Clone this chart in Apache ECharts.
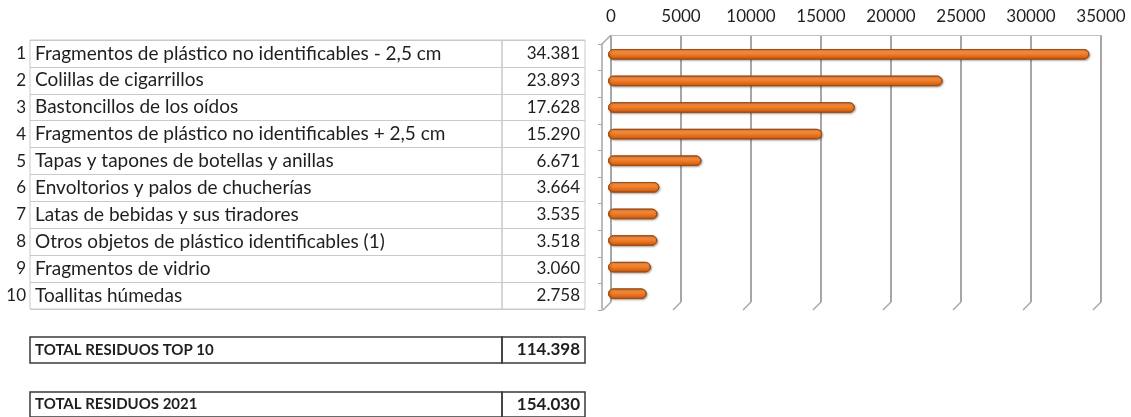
<!DOCTYPE html>
<html><head><meta charset="utf-8">
<script src="https://cdn.jsdelivr.net/npm/echarts@6/dist/echarts.min.js"></script>
<style>html,body{margin:0;padding:0;background:#fff}#c{width:1131px;height:417px}</style>
</head><body><div id="c"></div>
<script>
const categories = [
  'Fragmentos de plástico no identificables - 2,5 cm',
  'Colillas de cigarrillos',
  'Bastoncillos de los oídos',
  'Fragmentos de plástico no identificables + 2,5 cm',
  'Tapas y tapones de botellas y anillas',
  'Envoltorios y palos de chucherías',
  'Latas de bebidas y sus tiradores',
  'Otros objetos de plástico identificables (1)',
  'Fragmentos de vidrio',
  'Toallitas húmedas'
];
const values = [34381, 23893, 17628, 15290, 6671, 3664, 3535, 3518, 3060, 2758];
const rankLabels = ['1','2','3','4','5','6','7','8','9','10'];
const totalLabels = ['TOTAL RESIDUOS TOP 10', 'TOTAL RESIDUOS 2021'];
const totalValues = [114398, 154030];
const axisTicks = [0, 5000, 10000, 15000, 20000, 25000, 30000, 35000];
const axisMax = 35000;
const axisStep = 5000;

const fmt = n => String(n).replace(/\B(?=(\d{3})+(?!\d))/g, '.');
const FONT = 'Lato, "Liberation Sans", sans-serif';
const TXT = '#1F1F1F';
const CELL = '#C9C9C9';
const BOX = '#3A3A3A';
const GRIDC = '#A6A6A6';

const grids = [
  {left:611, top:35, width:490, height:267},                 // 0 back wall
  {left:608, top:41, width:490, height:266},                 // 1 bars
  {left:602, top:44, width:10, height:266},                  // 2 front axis
  {left:30, top:40, width:472, height:269, show:true, borderColor:CELL, borderWidth:1}, // 3 names
  {left:502, top:40, width:83, height:269, show:true, borderColor:CELL, borderWidth:1}, // 4 values
  {left:30, top:337, width:472, height:26, show:true, borderColor:BOX, borderWidth:1.5},
  {left:502, top:337, width:83, height:26, show:true, borderColor:BOX, borderWidth:1.5},
  {left:30, top:392, width:472, height:26, show:true, borderColor:BOX, borderWidth:1.5},
  {left:502, top:392, width:83, height:26, show:true, borderColor:BOX, borderWidth:1.5}
];

const hiddenX = i => ({gridIndex:i, type:'value', min:0, max:1, show:false});
const xAxes = [
  {gridIndex:0, type:'value', position:'top', min:0, max:axisMax, interval:axisStep,
   axisLine:{show:true, lineStyle:{color:'#BFBFBF', width:1}}, axisTick:{show:false},
   axisLabel:{margin:10, fontSize:17, color:TXT, fontFamily:FONT, formatter:v => String(v)},
   splitLine:{show:true, lineStyle:{color:GRIDC, width:2}}},
  {gridIndex:1, type:'value', min:0, max:axisMax, show:false},
  hiddenX(2), hiddenX(3), hiddenX(4), hiddenX(5), hiddenX(6), hiddenX(7), hiddenX(8)
];

const noLine = {axisLine:{show:false}, axisTick:{show:false}};
const lbl = (extra) => Object.assign({fontSize:17, color:TXT, fontFamily:FONT}, extra);
const yAxes = [
  {gridIndex:0, type:'category', data:categories, inverse:true, show:false},
  {gridIndex:1, type:'category', data:categories, inverse:true, show:false},
  {gridIndex:2, type:'category', data:categories, inverse:true, position:'left',
   axisLine:{show:true, lineStyle:{color:GRIDC, width:1.5}},
   axisTick:{show:true, length:4, lineStyle:{color:GRIDC}}, axisLabel:{show:false}},
  Object.assign({gridIndex:3, type:'category', data:rankLabels, inverse:true, position:'left',
   axisLabel:lbl({margin:4}), splitLine:{show:true, lineStyle:{color:CELL, width:1}}}, noLine),
  Object.assign({gridIndex:3, type:'category', data:categories, inverse:true, position:'left',
   axisLabel:lbl({inside:true, margin:5, fontSize:19})}, noLine),
  Object.assign({gridIndex:4, type:'category', data:values.map(fmt), inverse:true, position:'right',
   axisLabel:lbl({inside:true, margin:5}), splitLine:{show:true, lineStyle:{color:CELL, width:1}}}, noLine),
  Object.assign({gridIndex:5, type:'category', data:[totalLabels[0]], position:'left',
   axisLabel:lbl({inside:true, margin:5, fontWeight:'bold', fontSize:15})}, noLine),
  Object.assign({gridIndex:6, type:'category', data:[fmt(totalValues[0])], position:'right',
   axisLabel:lbl({inside:true, margin:5, fontWeight:'bold'})}, noLine),
  Object.assign({gridIndex:7, type:'category', data:[totalLabels[1]], position:'left',
   axisLabel:lbl({inside:true, margin:5, fontWeight:'bold', fontSize:15})}, noLine),
  Object.assign({gridIndex:8, type:'category', data:[fmt(totalValues[1])], position:'right',
   axisLabel:lbl({inside:true, margin:5, fontWeight:'bold'})}, noLine)
];

const chart = echarts.init(document.getElementById('c'), null, {renderer:'canvas'});
chart.setOption({
  animation:false,
  backgroundColor:'#ffffff',
  grid:grids,
  xAxis:xAxes,
  yAxis:yAxes,
  series:[{
    type:'bar', xAxisIndex:1, yAxisIndex:1, data:values, barWidth:10.5,
    itemStyle:{
      color:new echarts.graphic.LinearGradient(0,0,0,1,[
        {offset:0, color:'#FAA868'},
        {offset:0.45, color:'#F47F28'},
        {offset:1, color:'#C25810'}
      ]),
      borderColor:'#A84A0C', borderWidth:1, borderRadius:5,
      shadowColor:'rgba(0,0,0,0.3)', shadowBlur:2, shadowOffsetX:1, shadowOffsetY:1
    }
  }]
});

// 3D floor feet of the back-wall gridlines, placed through the axis scale
const floorY = 302, dx = 8, dy = 8;
const feet = axisTicks.map(v => {
  const x = chart.convertToPixel({xAxisIndex:0}, v);
  return {type:'line', silent:true, shape:{x1:x, y1:floorY, x2:x - dx, y2:floorY + dy},
          style:{stroke:GRIDC, lineWidth:1.5}};
});
const x0 = chart.convertToPixel({xAxisIndex:0}, 0);
feet.push({type:'line', silent:true, shape:{x1:x0, y1:35, x2:x0 - 9, y2:44},
           style:{stroke:GRIDC, lineWidth:1.5}});
chart.setOption({graphic:feet});
</script></body></html>
